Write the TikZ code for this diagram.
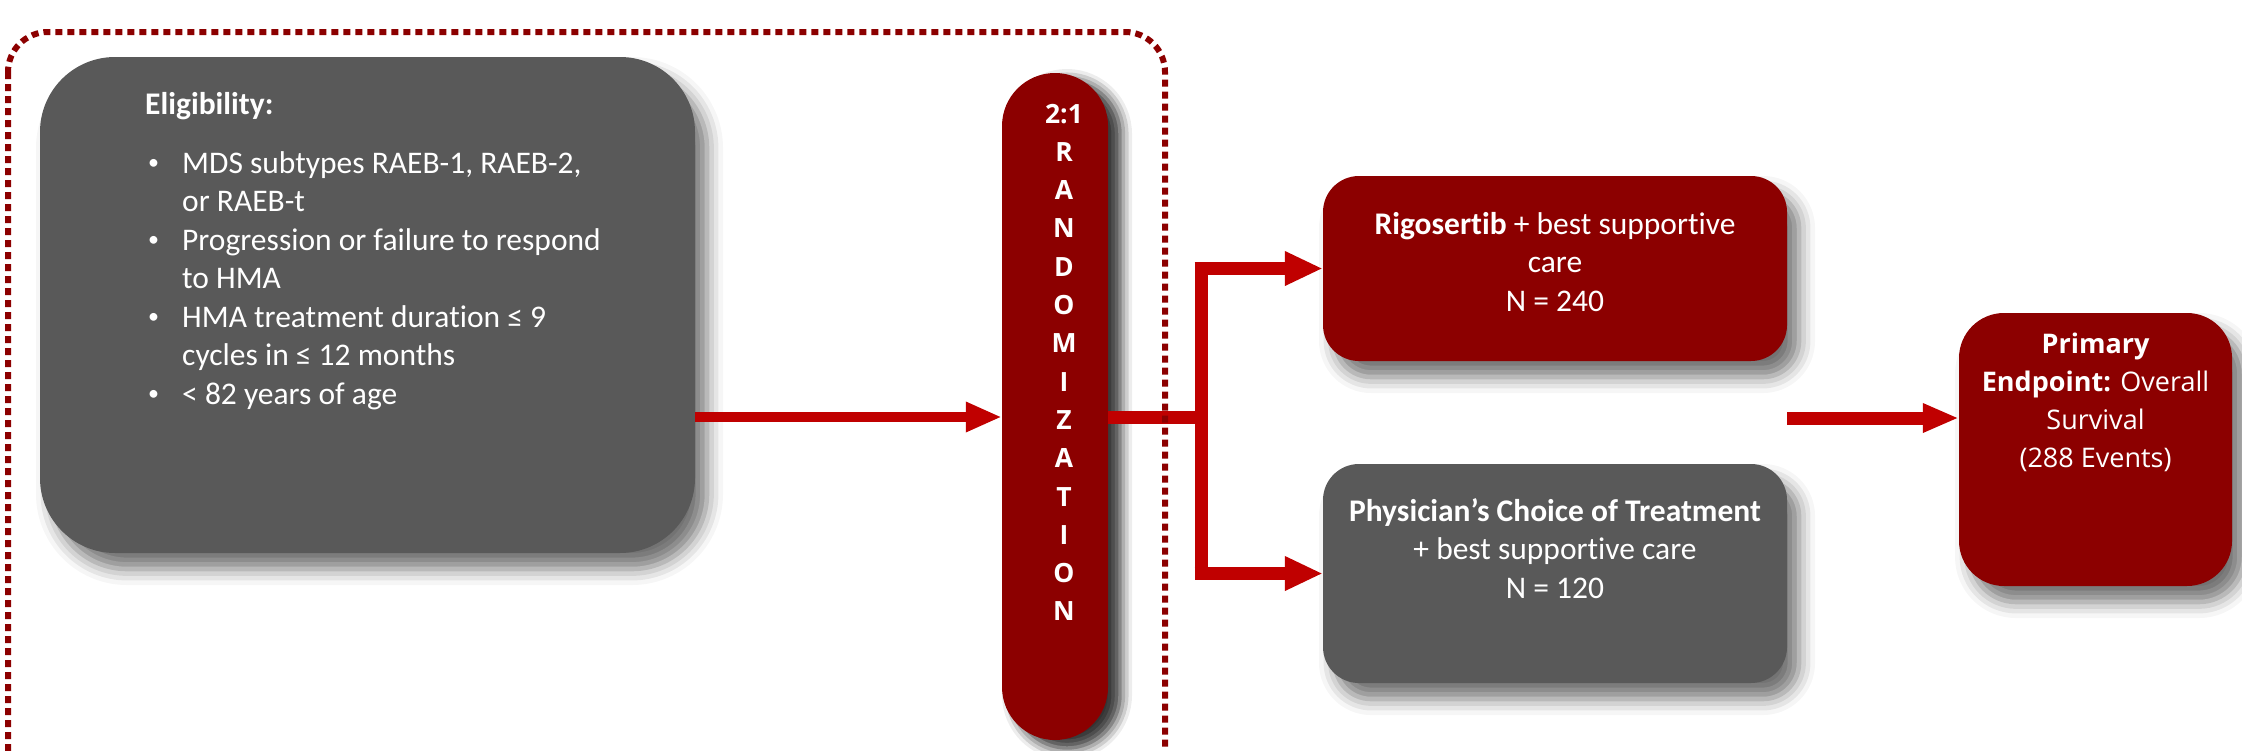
\documentclass[tikz,border=0pt]{standalone}
\usepackage{fontspec}
\setmainfont{Carlito}[Ligatures={NoCommon}]
\newfontfamily\osans{Open Sans}
\usetikzlibrary{arrows.meta,shadows.blur}
\definecolor{dred}{HTML}{8C0000}
\definecolor{dgray}{HTML}{595959}
\definecolor{ared}{HTML}{C00000}
\newcommand{\smbul}{\hspace{3pt}\raisebox{3.5pt}{\fontsize{22}{22}\selectfont\textbullet}}
\tikzset{
  boxshadow/.style={blur shadow={shadow xshift=12pt,shadow yshift=-16pt,shadow blur radius=16pt,shadow opacity=55}},
  redbox/.style={fill=dred,draw=none,boxshadow},
  graybox/.style={fill=dgray,draw=none,boxshadow},
  txt/.style={text=white,inner sep=0pt,font=\fontsize{31.5}{38.5}\selectfont},
  etxt/.style={text=white,inner sep=0pt,font=\osans\fontsize{27}{38.3}\selectfont},
  bigarrow/.style={draw=ared,line width=#1,-{Triangle[length=36pt,width=28pt]}},
  plainline/.style={draw=ared,line width=#1},
  border/.style={draw=dred,line width=6pt,dash pattern=on 7pt off 5pt,rounded corners=40pt}
}
\begin{document}
\begin{tikzpicture}[x=1pt,y=-1pt]
\useasboundingbox (0,0) rectangle (2242,750);
\clip (0,0) rectangle (2242,750);
% boxes
\node[graybox,rounded corners=75pt,minimum width=655pt,minimum height=496pt] (elig) at (367.5,305) {};
\node[redbox,rounded corners=53pt,minimum width=106pt,minimum height=667pt,
      blur shadow={shadow xshift=12pt,shadow yshift=-8pt,shadow blur radius=12pt,shadow opacity=55}] (rand) at (1055,406.5) {};
\node[redbox,rounded corners=36pt,minimum width=464pt,minimum height=185pt] (rigo) at (1555,268.5) {};
\node[graybox,rounded corners=36pt,minimum width=464pt,minimum height=219pt] (phys) at (1555,573.5) {};
\node[redbox,rounded corners=45pt,minimum width=273pt,minimum height=273pt] (endp) at (2095.5,449.5) {};
% texts
\node[txt,anchor=north west] (eligtxt) at (145,87) {%
\begin{tabular}{@{}p{37pt}@{}l@{}}
\multicolumn{2}{@{}l@{}}{\textbf{Eligibility:}}\\[20.5pt]
\smbul & MDS subtypes RAEB-1, RAEB-2,\\
 & or RAEB-t\\
\smbul & Progression or failure to respond\\
 & to HMA\\
\smbul & HMA treatment duration ≤ 9\\
 & cycles in ≤ 12 months\\
\smbul & < 82 years of age
\end{tabular}};
\node[etxt,anchor=north,font=\osans\bfseries\fontsize{26.5}{38.3}\selectfont] (randtxt) at (1064,96) {%
\begin{tabular}{@{}c@{}}
2:1\\R\\A\\N\\D\\O\\M\\I\\Z\\A\\T\\I\\O\\N
\end{tabular}};
\node[txt,anchor=north] (rigotxt) at (1555,207) {%
\begin{tabular}{@{}c@{}}
\textbf{Rigosertib} + best supportive\\
care\\
N = 240
\end{tabular}};
\node[txt,anchor=north] (phystxt) at (1555,494) {%
\begin{tabular}{@{}c@{}}
\textbf{Physician’s Choice of Treatment}\\
+ best supportive care\\
N = 120
\end{tabular}};
\node[etxt,anchor=north] (endtxt) at (2095.5,326) {%
\begin{tabular}{@{}c@{}}
\textbf{Primary}\\
\textbf{Endpoint:} Overall\\
Survival\\
(288 Events)
\end{tabular}};
% connectors
\coordinate (ay) at (0,417);
\coordinate (j) at (1201,417);
\draw[bigarrow=10pt] (elig.east |- ay) -- (rand.west |- ay);
\draw[plainline=13pt] (rand.east |- ay) -- ([xshift=6.5pt]j);
\draw[plainline=13pt] ([yshift=6.5pt]j |- rigo.west) -- ([yshift=-6.5pt]j |- phys.west);
\draw[draw=ared,line width=13pt,-{Triangle[length=38pt,width=32pt]}] ([xshift=-6.5pt]j |- rigo.west) -- (rigo.west);
\draw[draw=ared,line width=13pt,-{Triangle[length=38pt,width=32pt]}] ([xshift=-6.5pt]j |- phys.west) -- (phys.west);
\draw[draw=ared,line width=13pt,-{Triangle[length=36pt,width=27pt]}] (rigo.east |- 0,418) -- (endp.west |- 0,418);
% dotted border
\draw[border] (8,32) rectangle (1165,820);
\end{tikzpicture}
\end{document}
